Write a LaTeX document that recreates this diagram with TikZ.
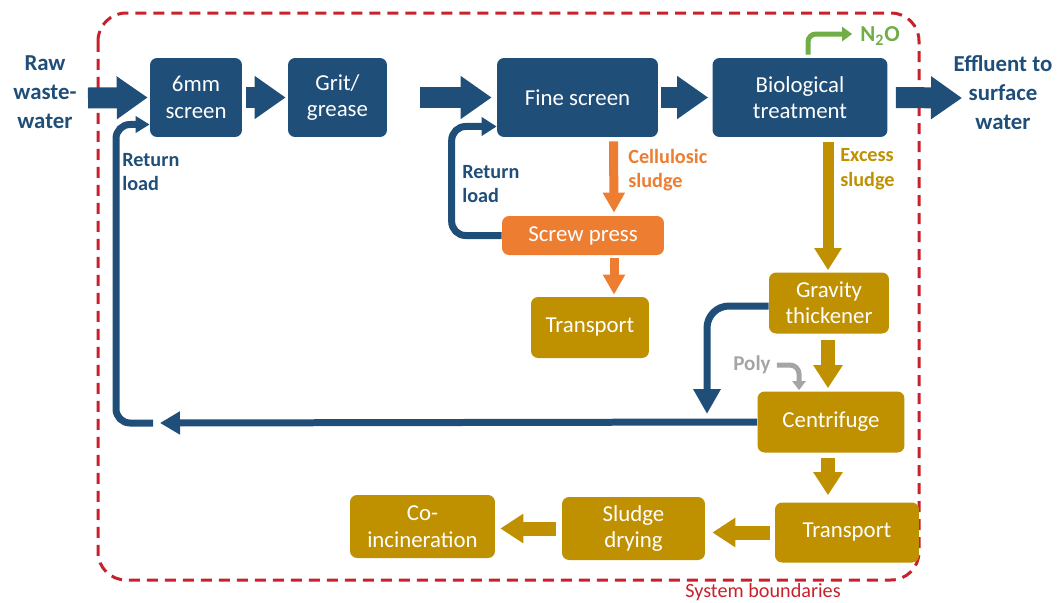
\documentclass[tikz,border=0pt]{standalone}
\usepackage{fontspec}
\setmainfont{Carlito}
\usetikzlibrary{positioning,arrows.meta,calc}
\definecolor{boxblue}{HTML}{1F4E79}
\definecolor{sludgegold}{HTML}{BF9000}
\definecolor{pressorange}{HTML}{ED7D31}
\definecolor{gasgreen}{HTML}{70AD47}
\definecolor{polygray}{HTML}{A5A5A5}
\definecolor{boundred}{HTML}{C9212B}

\begin{document}
\begin{tikzpicture}[x=0.02cm, y=-0.02cm,
    procBox/.style={rectangle, rounded corners=0.14cm, fill=boxblue, text=white, font=\fontsize{13}{15}\selectfont, align=center, inner sep=2pt},
    goldBox/.style={procBox, fill=sludgegold},
    orangeBox/.style={procBox, fill=pressorange},
    flowLabel/.style={font=\bfseries\fontsize{13}{16.5}\selectfont, text=boxblue, align=center},
    noteLabel/.style={font=\bfseries\fontsize{11.5}{14}\selectfont, align=left, anchor=west, inner sep=0pt},
    bigArrow/.style={draw=boxblue, line width=0.42cm, -{Triangle[width=0.82cm, length=0.62cm]}},
    goldBlock/.style={draw=sludgegold, line width=0.28cm, -{Triangle[width=0.56cm, length=0.46cm]}},
    goldThin/.style={draw=sludgegold, line width=0.22cm, -{Triangle[width=0.52cm, length=0.44cm]}},
    orangeThin/.style={draw=pressorange, line width=0.18cm, -{Triangle[width=0.42cm, length=0.4cm]}},
    returnLine/.style={draw=boxblue, line width=0.14cm, rounded corners=0.28cm},
    boundLine/.style={draw=boundred, line width=0.06cm, dash pattern=on 0.22cm off 0.14cm, rounded corners=0.56cm}
]
    \useasboundingbox (0,0) rectangle (1058,602);

    % system boundary
    \draw[boundLine] (98,13) rectangle (919,580);
    \node[font=\fontsize{11.5}{14}\selectfont, text=boundred] (sysb) at (763,592) {System boundaries};

    % water line
    \node[procBox, minimum width=1.84cm, minimum height=1.58cm] (screen6) at (196,97.5) {6mm\\screen};
    \node[procBox, minimum width=1.98cm, minimum height=1.58cm] (grit) at (337.5,97.5) {Grit/\\grease};
    \node[procBox, minimum width=3.22cm, minimum height=1.58cm] (fine) at (577.5,97.5) {Fine screen};
    \node[procBox, minimum width=3.5cm, minimum height=1.58cm] (bio) at (800,97.5) {Biological\\treatment};

    % sludge line
    \node[orangeBox, minimum width=3.24cm, minimum height=0.78cm] (press) at (583,235.5) {Screw press};
    \node[goldBox, minimum width=2.36cm, minimum height=1.22cm] (trans1) at (590,327.5) {Transport};
    \node[goldBox, minimum width=2.4cm, minimum height=1.22cm] (thick) at (829,303) {Gravity\\thickener};
    \node[goldBox, minimum width=2.94cm, minimum height=1.22cm] (centri) at (831,422) {Centrifuge};
    \node[goldBox, minimum width=2.88cm, minimum height=1.2cm] (trans2) at (847,532.5) {Transport};
    \node[goldBox, minimum width=2.86cm, minimum height=1.26cm] (drying) at (633.5,528.5) {Sludge\\drying};
    \node[goldBox, minimum width=2.9cm, minimum height=1.26cm] (incin) at (422.5,526.5) {Co-\\incineration};

    % labels
    \node[flowLabel] (raw) at (45,92) {Raw\\waste-\\water};
    \node[flowLabel] (effluent) at (1003,93) {Effluent to\\surface\\water};
    \node[noteLabel, text=boxblue] (retA) at (122,172) {Return\\load};
    \node[noteLabel, text=boxblue] (retB) at (462,184) {Return\\load};
    \node[noteLabel, text=pressorange] (cell) at (628,170) {Cellulosic\\sludge};
    \node[noteLabel, text=sludgegold] (excess) at (840,169) {Excess\\sludge};
    \node[font=\bfseries\fontsize{12}{14}\selectfont, text=polygray] (poly) at (752,365) {Poly};
    \node[font=\bfseries\fontsize{13}{15}\selectfont, text=gasgreen, inner sep=1pt] (n2o) at (880,36) {N\textsubscript{2}O};

    % main flow
    \coordinate (rawIn) at (88,98);
    \coordinate (effOut) at (962,98);
    \draw[bigArrow, shorten >=0.04cm] (rawIn) -- (screen6.west);
    \draw[bigArrow, shorten <=0.08cm, shorten >=0.04cm] (screen6) -- (grit);
    \draw[bigArrow, shorten <=0.66cm, shorten >=0.1cm] (grit) -- (fine);
    \draw[bigArrow, shorten <=0.06cm, shorten >=0.08cm] (fine) -- (bio);
    \draw[bigArrow, shorten <=0.16cm] (bio.east) -- (effOut);

    % N2O
    \draw[draw=gasgreen, line width=0.1cm, rounded corners=0.16cm, -{Triangle[width=0.28cm, length=0.2cm]}] ($(bio.north)+(8,-3)$) |- ($(n2o.west)+(-6,-2)$);

    % sludge flows
    \draw[orangeThin] ($(fine.south)+(36,4)$) -- ($(press.north)+(31,-3)$);
    \draw[orangeThin] ($(press.south)+(31,3)$) -- ($(trans1.north)+(24,-2)$);
    \draw[goldThin] ($(bio.south)+(28,5)$) -- ($(thick.north)+(-1,-2)$);
    \draw[goldBlock] ($(thick.south)+(-1,6)$) -- ($(centri.north)+(-3,-3)$);
    \draw[goldBlock] ($(centri.south)+(-3,5)$) -- ($(trans2.north)+(-19,-7)$);
    \draw[goldBlock, shorten <=0.1cm, shorten >=0.14cm] (trans2.west) -- (trans2.west -| drying.east);
    \draw[goldBlock, shorten <=0.12cm, shorten >=0.1cm] (drying.west) -- (drying.west -| incin.east);
    \draw[draw=polygray, line width=0.1cm, rounded corners=0.18cm, -{Triangle[width=0.26cm, length=0.18cm]}] (poly.east) -| ($(centri.north)+(-32,-1)$);

    % return loads
    \coordinate (retEnd) at (160,423);
    \coordinate (retStart) at (153,423);
    \coordinate (thickRet) at (707,414);
    \draw[returnLine, -{Triangle[width=0.44cm, length=0.4cm]}] (centri.west) -- (retEnd);
    \draw[returnLine, -{Triangle[width=0.32cm, length=0.28cm]}] (retStart) -- ++(-37,0) |- ([yshift=-0.54cm]screen6.west);
    \draw[returnLine, -{Triangle[width=0.36cm, length=0.3cm]}] (press.west) -- ++(-50,0) |- ([yshift=-0.58cm]fine.west);
    \draw[returnLine, rounded corners=0.44cm, -{Triangle[width=0.52cm, length=0.5cm]}] ([yshift=-0.06cm]thick.west) -| (thickRet);
\end{tikzpicture}
\end{document}
